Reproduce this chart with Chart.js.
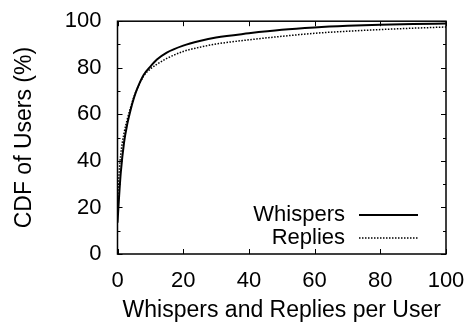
<!DOCTYPE html>
<html><head><meta charset="utf-8">
<script src="https://cdn.jsdelivr.net/npm/chart.js@4"></script>
<style>html,body{margin:0;padding:0;background:#fff}#wrap{width:471px;height:324px}</style>
</head><body><div id="wrap"><canvas id="c" width="471" height="324"></canvas></div>
<script>
const xValues = [0, 0.5, 1, 2, 3, 4, 5, 6, 8, 10, 12, 15, 20, 25, 30, 40, 50, 60, 70, 80, 90, 100];
const whispers = [13.5, 25, 35, 48, 56, 62, 67, 71, 77, 80.5, 83.5, 86.5, 89.5, 91.5, 93, 94.8, 96.3, 97.3, 98, 98.5, 98.8, 99];
const replies = [22, 35, 43, 52, 58, 63, 67.5, 71, 76.5, 79.5, 81.5, 84, 87, 88.8, 90.2, 92, 93.5, 94.8, 95.7, 96.4, 97, 97.5];
const seriesNames = ['Whispers', 'Replies'];
const xTicks = [0, 20, 40, 60, 80, 100];
const yTicks = [0, 20, 40, 60, 80, 100];
const xTitle = 'Whispers and Replies per User';
const yTitle = 'CDF of Users (%)';

const FONT = '"Liberation Sans", Arial, sans-serif';
const toPts = ys => xValues.map((x, i) => ({x, y: ys[i]}));

const framePlugin = {
  id: 'frame',
  afterDatasetsDraw(chart) {
    const {ctx, chartArea: a, scales: {x, y}} = chart;
    ctx.save();
    ctx.strokeStyle = '#000';
    ctx.lineWidth = 1.5;
    ctx.strokeRect(a.left, a.top, a.right - a.left, a.bottom - a.top);
    ctx.lineWidth = 1;
    ctx.beginPath();
    for (let v = 0; v <= 100; v += 10) {
      const py = Math.round(y.getPixelForValue(v)) + 0.5;
      const len = (v % 20 === 0) ? 5 : 3;
      ctx.moveTo(a.left, py); ctx.lineTo(a.left + len, py);
      ctx.moveTo(a.right, py); ctx.lineTo(a.right - len, py);
    }
    xTicks.forEach(v => {
      const px = Math.round(x.getPixelForValue(v)) + 0.5;
      ctx.moveTo(px, a.bottom); ctx.lineTo(px, a.bottom - 5);
      ctx.moveTo(px, a.top); ctx.lineTo(px, a.top + 5);
    });
    ctx.stroke();
    // legend
    ctx.font = '22px ' + FONT;
    ctx.fillStyle = '#000';
    ctx.textAlign = 'right';
    ctx.textBaseline = 'middle';
    const rows = [{y: 215}, {y: 238}];
    rows.forEach((r, i) => {
      const ds = chart.data.datasets[i];
      ctx.fillText(seriesNames[i], 345, r.y);
      ctx.beginPath();
      ctx.setLineDash(ds.borderDash || []);
      ctx.lineWidth = ds.borderWidth;
      ctx.moveTo(359, r.y); ctx.lineTo(418, r.y);
      ctx.stroke();
    });
    ctx.restore();
  }
};

new Chart(document.getElementById('c'), {
  type: 'line',
  data: {
    datasets: [
      {label: seriesNames[0], data: toPts(whispers), borderColor: '#000', borderWidth: 2, pointRadius: 0, cubicInterpolationMode: 'monotone', fill: false},
      {label: seriesNames[1], data: toPts(replies), borderColor: '#000', borderWidth: 1.5, borderDash: [1.5, 1.5], pointRadius: 0, cubicInterpolationMode: 'monotone', fill: false}
    ]
  },
  options: {
    responsive: false,
    animation: false,
    layout: {padding: {top: 18, right: 25, left: 0, bottom: 0}},
    plugins: {legend: {display: false}, tooltip: {enabled: false}},
    scales: {
      x: {
        type: 'linear', min: 0, max: 100,
        afterBuildTicks: s => { s.ticks = xTicks.map(v => ({value: v})); },
        afterFit: s => { s.height = 70; },
        grid: {display: false}, border: {display: false},
        ticks: {color: '#000', font: {family: FONT, size: 22}, padding: 6, maxRotation: 0},
        title: {display: true, text: xTitle, color: '#000', font: {family: FONT, size: 23}, padding: {top: 0, bottom: 0}}
      },
      y: {
        type: 'linear', min: 0, max: 100,
        afterBuildTicks: s => { s.ticks = yTicks.map(v => ({value: v})); },
        afterFit: s => { s.width = 117.5; },
        grid: {display: false}, border: {display: false},
        ticks: {color: '#000', font: {family: FONT, size: 22}, padding: 8},
        title: {display: true, text: yTitle, color: '#000', font: {family: FONT, size: 23}, padding: {top: 11, bottom: 0}}
      }
    }
  },
  plugins: [framePlugin]
});
</script>
</body></html>
